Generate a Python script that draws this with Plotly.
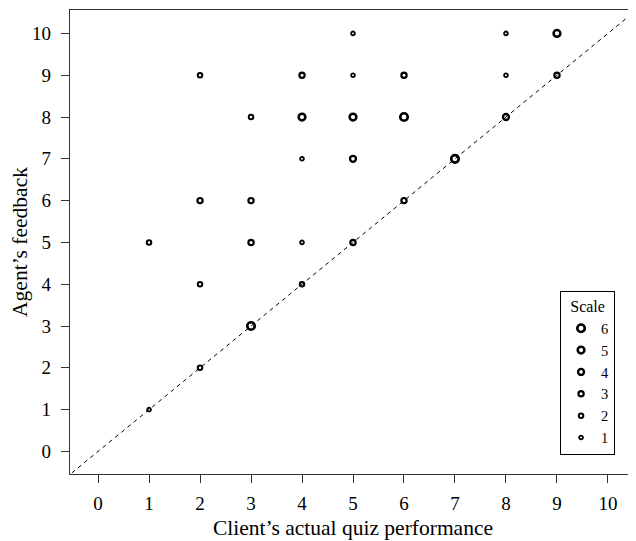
import plotly.graph_objects as go

# Data: (client's actual performance, agent's feedback, count)
actual   = [5, 8, 9,  2, 4, 5, 6, 8, 9,  3, 4, 5, 6, 8,  4, 5, 7,  2, 3, 6,  1, 3, 4, 5,  2, 4,  3,  2,  1]
feedback = [10, 10, 10, 9, 9, 9, 9, 9, 9, 8, 8, 8, 8, 8, 7, 7, 7, 6, 6, 6, 5, 5, 5, 5, 4, 4, 3, 2, 1]
counts   = [1, 1, 5,  2, 3, 1, 3, 1, 3,  2, 5, 5, 6, 4,  1, 4, 6,  3, 3, 3,  2, 3, 1, 3,  2, 2, 6, 2, 1]

scale_levels = [6, 5, 4, 3, 2, 1]
diag = [-1, 11]
tick_vals = list(range(0, 11))

FONT = "Liberation Serif, Times New Roman, serif"


def msize(c):
    return 3.0 + 0.75 * c


def mline(c):
    return 1.7 + 0.16 * c


fig = go.Figure()

fig.add_trace(go.Scatter(
    x=diag, y=diag, mode="lines",
    line=dict(color="black", width=1, dash="4px,4px"),
    showlegend=False, hoverinfo="skip",
))

fig.add_trace(go.Scatter(
    x=actual, y=feedback, mode="markers",
    marker=dict(symbol="circle-open", color="black", opacity=1,
                size=[msize(c) for c in counts],
                line=dict(width=[mline(c) for c in counts])),
    showlegend=False,
))

for s in scale_levels:
    fig.add_trace(go.Scatter(
        x=[None], y=[None], mode="markers", name=str(s),
        marker=dict(symbol="circle-open", color="black",
                    size=msize(s), line=dict(width=mline(s))),
    ))

axis_common = dict(
    tickmode="array", tickvals=tick_vals,
    ticks="outside", ticklen=8, tickwidth=1, tickcolor="#333",
    showline=True, linecolor="#333", linewidth=1.3,
    showgrid=False, zeroline=False,
    tickfont=dict(family=FONT, size=19, color="black"),
)

# The page body adds an 8px offset, so the figure is 8px smaller each way
fig.update_layout(
    width=628, height=533,
    margin=dict(l=62, r=0, t=2, b=66.5, autoexpand=False),
    paper_bgcolor="white", plot_bgcolor="white",
    font=dict(family=FONT, size=19, color="black"),
    xaxis=dict(range=[-0.55, 10.55], mirror=True, automargin=False,
               ticklabelstandoff=4,
               title=dict(text="Client’s actual quiz performance",
                          font=dict(family=FONT, size=21.5), standoff=6),
               **axis_common),
    yaxis=dict(range=[-0.54, 10.56], mirror=False, automargin=True,
               ticklabelstandoff=6,
               title=dict(text="Agent’s feedback",
                          font=dict(family=FONT, size=21.5), standoff=4),
               **axis_common),
    legend=dict(
        title=dict(text="Scale", side="top center",
                   font=dict(family=FONT, size=16)),
        font=dict(family=FONT, size=14.5, color="black"),
        x=0.963, y=0.042, xanchor="right", yanchor="bottom",
        bordercolor="black", borderwidth=1, bgcolor="white",
        itemwidth=30, tracegroupgap=0,
    ),
)

fig.write_html("out.html")
